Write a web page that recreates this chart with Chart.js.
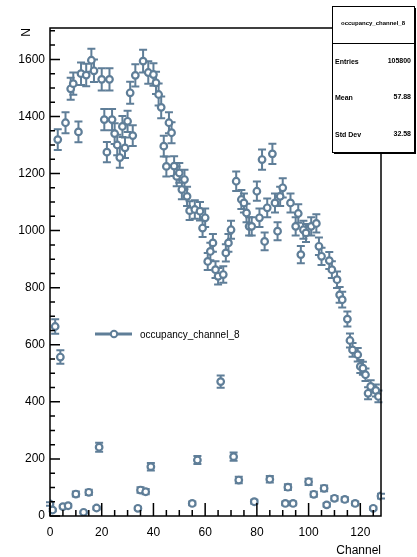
<!DOCTYPE html>
<html>
<head>
<meta charset="utf-8">
<script src="https://cdn.jsdelivr.net/npm/chart.js@4.4.1/dist/chart.umd.min.js"></script>
<style>
html, body { margin: 0; padding: 0; background: #fff; }
canvas { display: block; }
</style>
</head>
<body>
<canvas id="chart1" width="417" height="557"></canvas>
<script>
// channel numbers and counts per channel
var channels = [
  0,1,2,3,4,5,6,7,8,9,10,11,12,13,14,15,16,17,18,19,
  20,21,22,23,24,25,26,27,28,29,30,31,32,33,34,35,36,37,38,39,
  40,41,42,43,44,45,46,47,48,49,50,51,52,53,54,55,56,57,58,59,
  60,61,62,63,64,65,66,67,68,69,70,71,72,73,74,75,76,77,78,79,
  80,81,82,83,84,85,86,87,88,89,90,91,92,93,94,95,96,97,98,99,
  100,101,102,103,104,105,106,107,108,109,110,111,112,113,114,115,116,117,118,119,
  120,121,122,123,124,125,126,127,128
];
var counts = [
  42,21,664,1319,557,33,1378,36,1497,1515,77,1346,1550,13,1545,83,1597,1560,28,241,
  1530,1389,1275,1530,1389,1340,1300,1256,1365,1290,1383,1483,1333,1544,27,91,1594,85,1554,173,
  1547,1518,1477,1432,1296,1225,1378,1343,1226,1190,1202,1144,1179,1120,1070,44,1074,196,1068,1009,
  1045,892,927,957,863,840,471,846,922,957,1003,208,1173,126,1109,1097,1062,1015,1015,50,
  1138,1045,1249,962,1080,129,1269,1097,998,1120,1150,44,101,1097,44,1015,1060,916,1003,992,
  120,1015,76,1025,945,910,97,39,895,863,62,828,775,758,58,690,615,582,44,565,
  524,518,495,430,454,27,440,419,70
];
var xTicks = [0, 20, 40, 60, 80, 100, 120];
var yTicks = [0, 200, 400, 600, 800, 1000, 1200, 1400, 1600];
var histName = "occupancy_channel_8";
var statNames = ["Entries", "Mean", "Std Dev"];
var statValues = ["105800", "57.88", "32.58"];

var blue = "#5f7e98";
var font = "Liberation Sans, Arial, sans-serif";

var points = [];
for (var i = 0; i < channels.length; i++) {
  points.push({x: channels[i], y: counts[i]});
}

// vertical error bars (sqrt N) with end caps, under the markers
var errorBars = {
  id: "errorBars",
  beforeDatasetsDraw: function(chart) {
    var ctx = chart.ctx, xs = chart.scales.x, ys = chart.scales.y;
    ctx.save();
    ctx.strokeStyle = blue;
    ctx.lineWidth = 2;
    chart.data.datasets[0].data.forEach(function(p) {
      var e = Math.sqrt(p.y);
      var px = xs.getPixelForValue(p.x);
      var top = ys.getPixelForValue(p.y + e);
      var bot = ys.getPixelForValue(Math.max(p.y - e, 0));
      ctx.beginPath();
      ctx.moveTo(px, top); ctx.lineTo(px, bot);
      ctx.moveTo(px - 4, top); ctx.lineTo(px + 4, top);
      ctx.moveTo(px - 4, bot); ctx.lineTo(px + 4, bot);
      ctx.stroke();
    });
    ctx.restore();
  }
};

// frame, inward ticks, axis titles, legend and stats box
var rootFrame = {
  id: "rootFrame",
  afterDraw: function(chart) {
    var ctx = chart.ctx, a = chart.chartArea;
    var xs = chart.scales.x, ys = chart.scales.y;
    ctx.save();
    ctx.strokeStyle = "#000";
    ctx.lineWidth = 1.5;
    ctx.strokeRect(a.left, a.top, a.right - a.left, a.bottom - a.top);

    ctx.beginPath();
    for (var v = 0; v <= 128; v += 5) {
      var px = xs.getPixelForValue(v);
      var len = (v % 20 === 0) ? 13 : 6;
      ctx.moveTo(px, a.bottom); ctx.lineTo(px, a.bottom - len);
    }
    for (var w = 0; w <= 1700; w += 50) {
      var py = ys.getPixelForValue(w);
      var l2 = (w % 200 === 0) ? 10 : 5;
      ctx.moveTo(a.left, py); ctx.lineTo(a.left + l2, py);
    }
    ctx.stroke();

    ctx.fillStyle = "#000";
    ctx.font = "12px " + font;
    ctx.textAlign = "right";
    ctx.textBaseline = "alphabetic";
    ctx.fillText("Channel", a.right, 554);

    ctx.save();
    ctx.translate(30, a.top);
    ctx.rotate(-Math.PI / 2);
    ctx.textAlign = "right";
    ctx.fillText("N", 0, 0);
    ctx.restore();

    // legend
    ctx.strokeStyle = blue;
    ctx.lineWidth = 3;
    ctx.beginPath();
    ctx.moveTo(95, 334); ctx.lineTo(132, 334);
    ctx.stroke();
    ctx.lineWidth = 2;
    ctx.fillStyle = "#fff";
    ctx.beginPath();
    ctx.arc(114, 334, 3.2, 0, Math.PI * 2);
    ctx.fill(); ctx.stroke();
    ctx.fillStyle = "#000";
    ctx.font = "10px " + font;
    ctx.textAlign = "left";
    ctx.textBaseline = "middle";
    ctx.fillText("occupancy_channel_8", 140, 335);

    // stats box
    var bx = 332, by = 6, bw = 82, bh = 146;
    ctx.fillStyle = "#000";
    ctx.fillRect(bx + 2, by + 2, bw, bh);
    ctx.fillStyle = "#fff";
    ctx.fillRect(bx, by, bw, bh);
    ctx.strokeStyle = "#000";
    ctx.lineWidth = 1;
    ctx.strokeRect(bx + 0.5, by + 0.5, bw, bh);
    ctx.beginPath();
    ctx.moveTo(bx, by + 37.5); ctx.lineTo(bx + bw, by + 37.5);
    ctx.stroke();
    ctx.fillStyle = "#000";
    ctx.font = "bold 6px " + font;
    ctx.textAlign = "center";
    ctx.fillText(histName, bx + bw / 2, by + 17);
    ctx.font = "bold 7px " + font;
    for (var k = 0; k < statNames.length; k++) {
      var ty = by + 56 + k * 36.5;
      ctx.textAlign = "left";
      ctx.fillText(statNames[k], bx + 3, ty);
      ctx.textAlign = "right";
      ctx.fillText(statValues[k], bx + bw - 3, ty - 1);
    }
    ctx.restore();
  }
};

var myChart1 = document.getElementById("chart1").getContext("2d");

var chart1 = new Chart(myChart1, {
  type: "scatter",
  data: {
    datasets: [{
      label: histName,
      data: points,
      pointStyle: "circle",
      pointRadius: 3.3,
      pointHoverRadius: 3.3,
      borderWidth: 2.2,
      borderColor: blue,
      backgroundColor: "#fff",
      showLine: false
    }]
  },
  options: {
    responsive: false,
    animation: false,
    devicePixelRatio: 1,
    layout: { padding: { top: 28, right: 36, left: 0, bottom: 0 } },
    plugins: {
      legend: { display: false },
      tooltip: { enabled: false }
    },
    scales: {
      x: {
        type: "linear",
        min: 0,
        max: 128,
        grid: { display: false, drawTicks: false },
        border: { display: false },
        afterFit: function(s) { s.height = 41; },
        afterBuildTicks: function(s) {
          s.ticks = xTicks.map(function(v) { return {value: v}; });
        },
        ticks: {
          padding: 9,
          maxRotation: 0,
          autoSkip: false,
          color: "#000",
          font: { family: font, size: 12 },
          callback: function(v) { return String(v); }
        }
      },
      y: {
        type: "linear",
        min: 0,
        max: 1710,
        grid: { display: false, drawTicks: false },
        border: { display: false },
        afterFit: function(s) { s.width = 50; },
        afterBuildTicks: function(s) {
          s.ticks = yTicks.map(function(v) { return {value: v}; });
        },
        ticks: {
          padding: 5,
          autoSkip: false,
          color: "#000",
          font: { family: font, size: 12 },
          callback: function(v) { return String(v); }
        }
      }
    }
  },
  plugins: [errorBars, rootFrame]
});
</script>
</body>
</html>
